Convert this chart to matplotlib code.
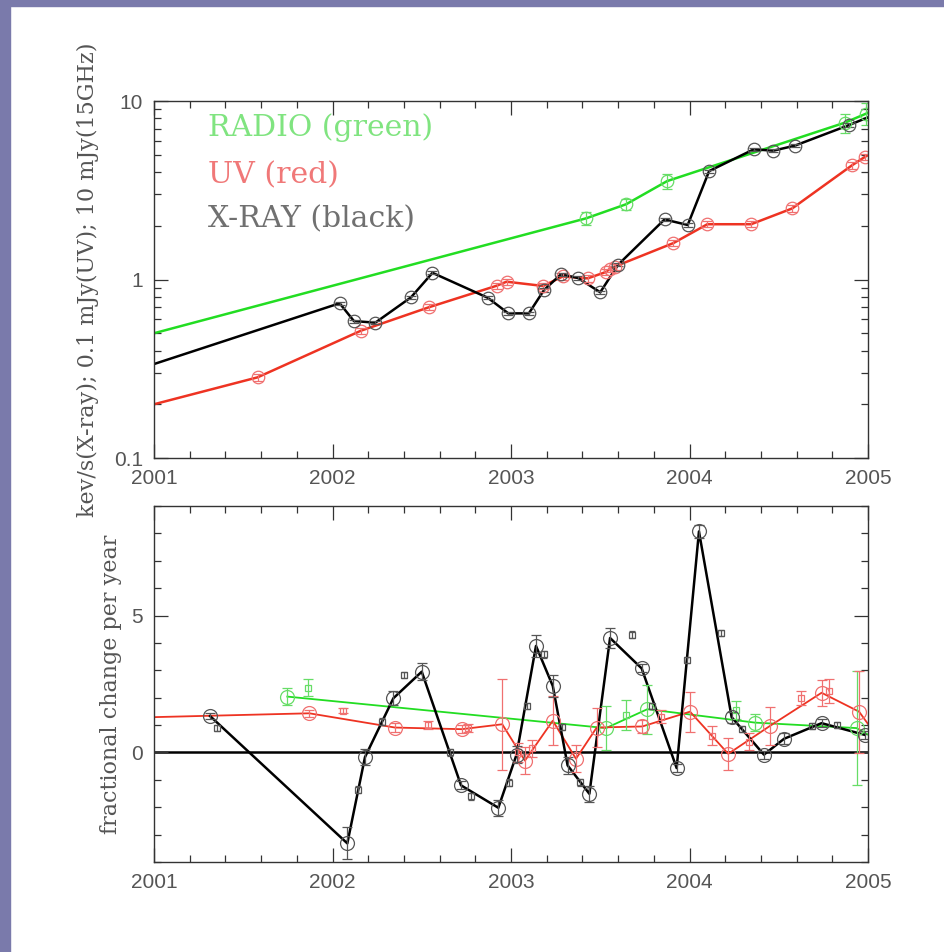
import numpy as np
import matplotlib
matplotlib.use("Agg")
import matplotlib.pyplot as plt
from matplotlib.patches import Rectangle
from matplotlib.ticker import FixedLocator, FixedFormatter, LogLocator, MultipleLocator, NullFormatter

# ---------- top panel: fluxes (log scale) ----------
xray_t = [2002.04, 2002.12, 2002.24, 2002.44, 2002.56, 2002.87, 2002.985, 2003.10, 2003.185,
          2003.28, 2003.375, 2003.50, 2003.60, 2003.86, 2003.99, 2004.11, 2004.36, 2004.47,
          2004.59, 2004.895]
xray_f = [0.736, 0.585, 0.573, 0.795, 1.09, 0.79, 0.646, 0.646, 0.873,
          1.07, 1.02, 0.848, 1.21, 2.17, 2.02, 4.05, 5.36, 5.27,
          5.62, 7.34]
xray_ends = [(2001.0, 0.336), (2005.0, 8.1)]

uv_t = [2001.58, 2002.16, 2002.54, 2002.92, 2002.975, 2003.18, 2003.29, 2003.43, 2003.53,
        2003.555, 2003.58, 2003.91, 2004.10, 2004.345, 2004.575, 2004.91, 2004.985]
uv_f = [0.283, 0.517, 0.699, 0.923, 0.972, 0.92, 1.04, 1.015, 1.10,
        1.15, 1.18, 1.60, 2.04, 2.04, 2.50, 4.36, 4.88]
uv_ends = [(2001.0, 0.20), (2005.0, 4.98)]

radio_t = [2003.42, 2003.645, 2003.875, 2004.87, 2004.99]
radio_f = [2.2, 2.64, 3.56, 7.56, 8.5]
radio_rel = [0.08, 0.07, 0.10, 0.12, 0.14]
radio_ends = [(2001.0, 0.5), (2005.0, 8.6)]

# ---------- bottom panel: fractional change per year ----------
# big circles (joined by lines)
xr_t = [2001.314, 2002.083, 2002.182, 2002.341, 2002.50, 2002.72, 2002.929, 2003.031, 2003.14,
        2003.234, 2003.317, 2003.439, 2003.555, 2003.732, 2003.928, 2004.053, 2004.236,
        2004.417, 2004.53, 2004.74, 2004.983]
xr_v = [1.33, -3.32, -0.17, 1.98, 2.95, -1.2, -2.02, -0.08, 3.89,
        2.43, -0.47, -1.51, 4.18, 3.07, -0.57, 8.07, 1.29,
        -0.08, 0.50, 1.07, 0.64]
xr_e = [0.12, 0.58, 0.3, 0.25, 0.3, 0.15, 0.3, 0.3, 0.4,
        0.4, 0.3, 0.3, 0.35, 0.15, 0.15, 0.25, 0.2,
        0.15, 0.2, 0.15, 0.15]

uvr_t = [2001.87, 2002.35, 2002.724, 2002.951, 2003.078, 2003.234, 2003.364, 2003.48,
         2003.736, 2004.003, 2004.217, 2004.451, 2004.74, 2004.95]
uvr_v = [1.43, 0.91, 0.85, 1.03, -0.3, 1.16, -0.23, 0.91, 0.95, 1.49, -0.05, 0.97, 2.18, 1.49]
uvr_e = [0.12, 0.15, 0.15, 1.67, 0.5, 0.9, 0.5, 0.7, 0.25, 0.73, 0.58, 0.68, 0.47, 1.5]
uvr_ends = [(2001.0, 1.29), (2005.0, 1.04)]

rr_t = [2001.747, 2003.532, 2003.764, 2004.367, 2004.936]
rr_v = [2.04, 0.89, 1.58, 1.09, 0.89]
rr_e = [0.3, 0.8, 0.9, 0.3, 2.08]
rr_end = (2005.0, 0.65)

# small squares (not joined)
xs_t = [2001.355, 2002.145, 2002.279, 2002.402, 2002.658, 2002.776, 2002.986, 2003.087,
        2003.187, 2003.285, 2003.387, 2003.68, 2003.792, 2003.984, 2004.175, 2004.296,
        2004.684, 2004.828]
xs_v = [0.89, -1.36, 1.13, 2.83, 0.0, -1.6, -1.1, 1.70,
        3.58, 0.93, -1.09, 4.30, 1.70, 3.37, 4.36, 0.85,
        0.97, 1.01]

uvs_t = [2002.061, 2002.537, 2002.761, 2003.04, 2003.12, 2003.84, 2004.124, 2004.335,
         2004.623, 2004.782]
uvs_v = [1.53, 1.01, 0.89, 0.0, 0.15, 1.31, 0.61, 0.40, 2.0, 2.25]
uvs_e = [0.1, 0.15, 0.15, 0.35, 0.3, 0.25, 0.35, 0.3, 0.25, 0.45]

rs_t = [2001.861, 2003.643, 2004.26]
rs_v = [2.37, 1.37, 1.55]
rs_e = [0.3, 0.55, 0.33]

years = [2001, 2002, 2003, 2004, 2005]

GREEN = '#22dd22'
RED = '#ee3322'
GREEN_M = '#66dd66'
RED_M = '#f07070'
BLACK_M = '#555555'
TXT = '#555555'
SERIF = 'DejaVu Serif'
SANS = 'Liberation Sans'


def joined(ends, t, v):
    # line vertices: start value, the points, end value
    tt = [ends[0][0]] + list(t) + [ends[1][0]]
    vv = [ends[0][1]] + list(v) + [ends[1][1]]
    return tt, vv


def style_axis(ax):
    ax.set_xlim(2001, 2005)
    ax.xaxis.set_major_locator(FixedLocator(years))
    ax.xaxis.set_major_formatter(FixedFormatter([str(y) for y in years]))
    ax.xaxis.set_minor_locator(MultipleLocator(0.2))
    ax.tick_params(which='both', direction='in', top=True, right=True, color='#333333',
                   width=0.9, labelsize=15, labelcolor=TXT, pad=8)
    ax.tick_params(which='major', length=10)
    ax.tick_params(which='minor', length=5)
    for lab in ax.get_xticklabels() + ax.get_yticklabels():
        lab.set_fontfamily(SANS)
    for s in ax.spines.values():
        s.set_color('#333333')
        s.set_linewidth(1.0)


fig = plt.figure(figsize=(9.44, 9.52), dpi=100)

# purple frame on the left and top edges
fig.patches.append(Rectangle((0, 0), 10 / 944, 1, transform=fig.transFigure, color='#7a7aab', zorder=0))
fig.patches.append(Rectangle((0, 1 - 6 / 952), 1, 6 / 952, transform=fig.transFigure, color='#7a7aab', zorder=0))

ax1 = fig.add_axes([154 / 944, 1 - 458 / 952, 714 / 944, 357 / 952])
ax2 = fig.add_axes([154 / 944, 1 - 862 / 952, 714 / 944, 356 / 952])

# ----- top -----
ax1.set_yscale('log')
ax1.set_ylim(0.1, 10)

tt, vv = joined(radio_ends, radio_t, radio_f)
ax1.plot(tt, vv, color=GREEN, lw=1.8)
tt, vv = joined(uv_ends, uv_t, uv_f)
ax1.plot(tt, vv, color=RED, lw=1.8)
tt, vv = joined(xray_ends, xray_t, xray_f)
ax1.plot(tt, vv, color='black', lw=1.8)

ax1.errorbar(radio_t, radio_f, yerr=np.array(radio_rel) * np.array(radio_f), fmt='o', ms=9,
             mfc='none', mec=GREEN_M, mew=0.9, ecolor=GREEN_M, elinewidth=0.9, capsize=3.5)
ax1.errorbar(uv_t, uv_f, yerr=0.04 * np.array(uv_f), fmt='o', ms=9,
             mfc='none', mec=RED_M, mew=0.9, ecolor=RED_M, elinewidth=0.9, capsize=3.5)
ax1.errorbar(xray_t, xray_f, yerr=0.02 * np.array(xray_f), fmt='o', ms=9,
             mfc='none', mec=BLACK_M, mew=0.9, ecolor=BLACK_M, elinewidth=0.9, capsize=3.5)

ax1.text(0.0756, 0.902, 'RADIO (green)', transform=ax1.transAxes, fontfamily=SERIF,
         fontsize=21.5, color='#80e480', va='baseline')
ax1.text(0.0756, 0.770, 'UV (red)', transform=ax1.transAxes, fontfamily=SERIF,
         fontsize=21.5, color='#f07878', va='baseline')
ax1.text(0.0756, 0.647, 'X-RAY (black)', transform=ax1.transAxes, fontfamily=SERIF,
         fontsize=21.5, color='#707070', va='baseline')

style_axis(ax1)
ax1.yaxis.set_major_locator(FixedLocator([0.1, 1, 10]))
ax1.yaxis.set_major_formatter(FixedFormatter(['0.1', '1', '10']))
ax1.yaxis.set_minor_locator(LogLocator(base=10, subs=np.arange(2, 10)))
ax1.yaxis.set_minor_formatter(NullFormatter())
for lab in ax1.get_yticklabels():
    lab.set_fontfamily(SANS)
ax1.set_ylabel('kev/s(X-ray); 0.1 mJy(UV); 10 mJy(15GHz)', fontfamily=SERIF, fontsize=16,
               color=TXT, va='center')
ax1.yaxis.set_label_coords(-0.092, 0.5)

# ----- bottom -----
ax2.set_ylim(-4, 9)
ax2.axhline(0, color='black', lw=1.8, zorder=1)

tt, vv = joined(((rr_t[0], rr_v[0]), rr_end), rr_t[1:], rr_v[1:])
ax2.plot(tt, vv, color=GREEN, lw=1.3)
tt, vv = joined(uvr_ends, uvr_t, uvr_v)
ax2.plot(tt, vv, color=RED, lw=1.3)
ax2.plot(xr_t, xr_v, color='black', lw=1.8)

ax2.errorbar(rr_t, rr_v, yerr=rr_e, fmt='o', ms=10, mfc='none', mec=GREEN_M, mew=0.9,
             ecolor=GREEN_M, elinewidth=0.9, capsize=3.5)
ax2.errorbar(rs_t, rs_v, yerr=rs_e, fmt='s', ms=4, mfc='none', mec=GREEN_M, mew=0.9,
             ecolor=GREEN_M, elinewidth=0.9, capsize=3.5)
ax2.errorbar(uvr_t, uvr_v, yerr=uvr_e, fmt='o', ms=10, mfc='none', mec=RED_M, mew=0.9,
             ecolor=RED_M, elinewidth=0.9, capsize=3.5)
ax2.errorbar(uvs_t, uvs_v, yerr=uvs_e, fmt='s', ms=4, mfc='none', mec=RED_M, mew=0.9,
             ecolor=RED_M, elinewidth=0.9, capsize=3.5)
ax2.errorbar(xr_t, xr_v, yerr=xr_e, fmt='o', ms=10, mfc='none', mec=BLACK_M, mew=0.9,
             ecolor=BLACK_M, elinewidth=0.9, capsize=3.5)
ax2.errorbar(xs_t, xs_v, yerr=0.12, fmt='s', ms=4, mfc='none', mec=BLACK_M, mew=0.9,
             ecolor=BLACK_M, elinewidth=0.9, capsize=2)

style_axis(ax2)
ax2.yaxis.set_major_locator(MultipleLocator(5))
ax2.yaxis.set_minor_locator(MultipleLocator(1))
for lab in ax2.get_yticklabels():
    lab.set_fontfamily(SANS)
ax2.set_ylabel('fractional change per year', fontfamily=SERIF, fontsize=16, color=TXT, va='center')
ax2.yaxis.set_label_coords(-0.060, 0.5)

fig.savefig('out.png', dpi=100, facecolor='white')
